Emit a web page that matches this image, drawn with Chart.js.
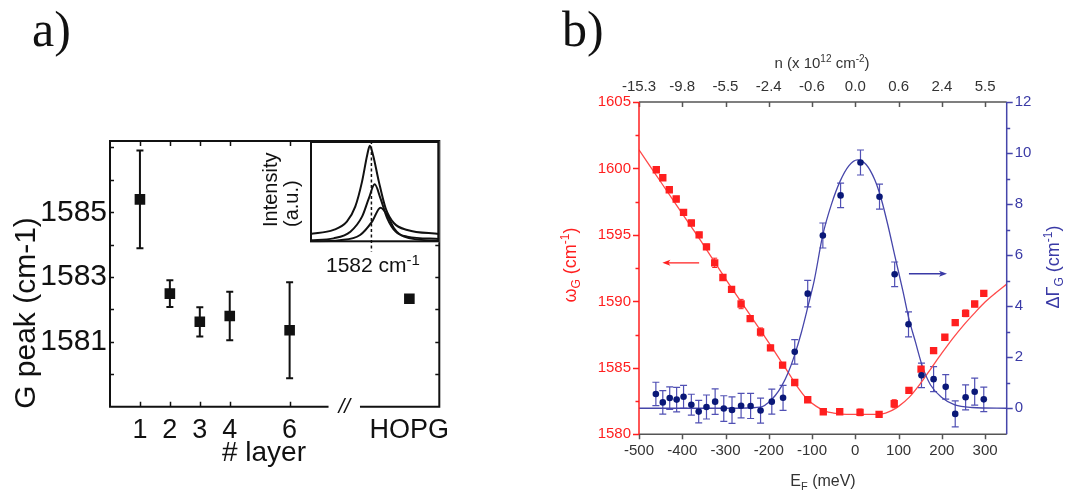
<!DOCTYPE html>
<html lang="en">
<head>
<meta charset="UTF-8">
<title>G peak position</title>
<script src="https://cdn.jsdelivr.net/npm/chart.js@4"></script>
<style>
  body { margin: 0; background: #fff; }
  #wrap { position: relative; width: 1072px; height: 499px; overflow: hidden; }
  .box { position: absolute; }
  .tag { position: absolute; font-family: "Liberation Serif", serif; font-size: 50px; line-height: 1; color: #111; }
</style>
</head>
<body>
<div id="wrap">
  <div class="tag" style="left:32px; top:4px">a)</div>
  <div class="tag" style="left:562px; top:4px">b)</div>
  <div class="box" style="left:0; top:0"><canvas id="layers" width="540" height="499"></canvas></div>
  <div class="box" style="left:310px; top:141px"><canvas id="inset" width="130" height="115"></canvas></div>
  <div class="box" style="left:540px; top:0"><canvas id="doping" width="532" height="499"></canvas></div>
</div>

<script>
// ---- panel a: G peak vs number of layers ----
const layerPos = [1, 2, 3, 4, 6, 10];
const layerLabels = ['1', '2', '3', '4', '6', 'HOPG'];
const gPeak = [1585.4, 1582.49, 1581.62, 1581.8, 1581.36, 1582.33];
const gPeakErr = [1.51, 0.41, 0.45, 0.75, 1.48, 0];
const gPeakTicks = [1581, 1583, 1585];

// inset: G band spectra (cm-1 vs intensity)
const spec1X = [1563, 1570.3, 1574.4, 1577.0, 1579.1, 1580.7, 1581.5, 1582.5, 1584.3, 1586.4, 1589.0, 1593.1, 1603];
const spec1Y = [0.082, 0.122, 0.204, 0.352, 0.599, 0.862, 0.954, 0.862, 0.599, 0.336, 0.188, 0.122, 0.082];
const spec2X = [1563, 1570.3, 1575.5, 1579.1, 1581.2, 1583.0, 1584.8, 1586.9, 1589.5, 1593.1, 1603];
const spec2Y = [0.02, 0.039, 0.105, 0.253, 0.434, 0.572, 0.434, 0.237, 0.105, 0.056, 0.033];
const spec3X = [1563, 1572.2, 1578.5, 1582.2, 1584.8, 1586.9, 1589.0, 1592.1, 1603];
const spec3Y = [0.007, 0.02, 0.072, 0.204, 0.342, 0.27, 0.138, 0.056, 0.013];
const markerX = 1582;

// ---- panel b: G peak vs Fermi energy ----
const redE = [-460, -445, -430, -414, -397, -379, -361, -344, -325, -306, -286, -264, -243, -219, -196, -168,
  -140, -110, -74, -36, 11, 55, 90, 124, 152, 181, 207, 231, 255, 276, 297];
const redW = [1599.9, 1599.3, 1598.4, 1597.7, 1596.7, 1595.9, 1595.0, 1594.1, 1592.9, 1591.8, 1590.9, 1589.8,
  1588.7, 1587.7, 1586.5, 1585.2, 1583.9, 1582.6, 1581.7, 1581.7, 1581.65, 1581.5, 1582.3, 1583.3, 1584.9,
  1586.3, 1587.3, 1588.4, 1589.1, 1589.8, 1590.6];
const redErr = [0.2, 0.2, 0.2, 0.2, 0.2, 0.2, 0.2, 0.2, 0.35, 0.2, 0.2, 0.35, 0.2, 0.3, 0.2, 0.2,
  0.2, 0.2, 0.2, 0.2, 0.25, 0.2, 0.3, 0.2, 0.2, 0.2, 0.2, 0.2, 0.25, 0.2, 0.2];

const blueE = [-461, -445, -429, -413, -397, -379, -362, -344, -324, -304, -285, -264, -242, -219, -193, -167,
  -140, -110, -75, -34, 12, 56, 91, 123, 153, 181, 209, 231, 255, 276, 297];
const blueG = [0.56, 0.23, 0.40, 0.34, 0.45, 0.14, -0.13, 0.05, 0.26, -0.01, -0.07, 0.10, 0.09, -0.09, 0.26, 0.41,
  2.21, 4.49, 6.77, 8.34, 9.63, 8.29, 5.25, 3.29, 1.29, 1.14, 0.84, -0.22, 0.43, 0.65, 0.35];
const blueErr = [0.46, 0.46, 0.44, 0.48, 0.45, 0.41, 0.44, 0.47, 0.5, 0.5, 0.52, 0.48, 0.49, 0.49, 0.49, 0.49,
  0.48, 0.52, 0.49, 0.48, 0.49, 0.49, 0.48, 0.49, 0.48, 0.49, 0.48, 0.51, 0.49, 0.53, 0.48];

// theory curves
const fitWE = [-500, -450, -400, -350, -300, -250, -200, -170, -150, -130, -110, -90, -70, -50, -20, 20, 50, 70, 85,
  100, 125, 150, 175, 200, 225, 250, 275, 300, 325, 350];
const fitW = [1601.4, 1599.0, 1596.6, 1594.2, 1591.7, 1589.3, 1586.9, 1585.4, 1584.4, 1583.4, 1582.6, 1582.1,
  1581.75, 1581.6, 1581.5, 1581.5, 1581.5, 1581.6, 1581.8, 1582.1, 1582.8, 1583.8, 1584.95, 1586.1, 1587.2,
  1588.2, 1589.1, 1589.95, 1590.65, 1591.3];
const fitGE = [-500, -400, -300, -250, -215, -200, -185, -170, -155, -140, -125, -110, -95, -75, -55, -35, -15, 5,
  25, 45, 60, 75, 91, 110, 124, 139, 155, 174, 200, 230, 270, 350];
const fitG = [0, 0, 0, 0.01, 0.06, 0.24, 0.5, 0.88, 1.4, 2.1, 2.95, 3.95, 5.0, 6.8, 8.0, 8.9, 9.5, 9.73,
  9.55, 8.95, 8.2, 7.2, 6.0, 4.6, 3.5, 2.6, 1.65, 0.91, 0.42, 0.13, 0.03, 0];

const energyTicks = [-500, -400, -300, -200, -100, 0, 100, 200, 300];
const densityLabels = ['-15.3', '-9.8', '-5.5', '-2.4', '-0.6', '0.0', '0.6', '2.4', '5.5'];

const SANS = '"Liberation Sans", Arial, sans-serif';
const RED = '#ff1f1f';
const BLUE = '#4545aa';
const NAVY = '#0a1878';

function pairs(xs, ys) { return xs.map((v, i) => ({ x: v, y: ys[i] })); }
const plain = v => String(v);

// text with sub/superscript pieces: [text, size, baselineShift]
function richText(ctx, parts, x, y, color, rotate, align) {
  ctx.save();
  ctx.translate(x, y);
  if (rotate) ctx.rotate(rotate);
  ctx.fillStyle = color;
  ctx.textBaseline = 'alphabetic';
  ctx.textAlign = 'left';
  let total = 0;
  parts.forEach(p => { ctx.font = p[1] + 'px ' + SANS; total += ctx.measureText(p[0]).width; });
  let cx = align === 'left' ? 0 : -total / 2;
  parts.forEach(p => {
    ctx.font = p[1] + 'px ' + SANS;
    ctx.fillText(p[0], cx, p[2] || 0);
    cx += ctx.measureText(p[0]).width;
  });
  ctx.restore();
}

function errorBars(ctx, xs, ys, errs, xs_, ys_, cap, color, width) {
  ctx.save();
  ctx.strokeStyle = color;
  ctx.lineWidth = width;
  xs.forEach((v, i) => {
    if (!errs[i]) return;
    const px = xs_.getPixelForValue(v);
    const top = ys_.getPixelForValue(ys[i] + errs[i]);
    const bot = ys_.getPixelForValue(ys[i] - errs[i]);
    ctx.beginPath();
    ctx.moveTo(px, top); ctx.lineTo(px, bot);
    ctx.moveTo(px - cap, top); ctx.lineTo(px + cap, top);
    ctx.moveTo(px - cap, bot); ctx.lineTo(px + cap, bot);
    ctx.stroke();
  });
  ctx.restore();
}

// tick marks along a vertical scale at x0, drawn towards dx
function yTicks(ctx, scale, values, x0, dx) {
  ctx.beginPath();
  values.forEach(v => {
    const py = Math.round(scale.getPixelForValue(v)) + 0.5;
    ctx.moveTo(x0, py); ctx.lineTo(x0 + dx, py);
  });
  ctx.stroke();
}
// tick marks along a horizontal scale at y0, drawn towards dy
function xTicks(ctx, scale, values, y0, dy) {
  ctx.beginPath();
  values.forEach(v => {
    const px = Math.round(scale.getPixelForValue(v)) + 0.5;
    ctx.moveTo(px, y0); ctx.lineTo(px, y0 + dy);
  });
  ctx.stroke();
}

function arrow(ctx, x1, y1, x2, y2, color) {
  const dir = Math.sign(x2 - x1);
  ctx.save();
  ctx.strokeStyle = color; ctx.fillStyle = color; ctx.lineWidth = 1.3;
  ctx.beginPath(); ctx.moveTo(x1, y1); ctx.lineTo(x2 - dir * 4, y2); ctx.stroke();
  ctx.beginPath();
  ctx.moveTo(x2, y2); ctx.lineTo(x2 - dir * 8, y2 - 3); ctx.lineTo(x2 - dir * 6, y2); ctx.lineTo(x2 - dir * 8, y2 + 3);
  ctx.closePath(); ctx.fill();
  ctx.restore();
}

// ---------- panel a ----------
const axisBreak = [7.3, 8.35];

const layersDecor = {
  id: 'layersDecor',
  beforeDatasetsDraw(chart) {
    const { ctx, scales: { x, y } } = chart;
    errorBars(ctx, layerPos, gPeak, gPeakErr, x, y, 3.5, '#111', 2);
  },
  afterDraw(chart) {
    const { ctx, chartArea: a, scales: { x, y } } = chart;
    ctx.save();
    ctx.strokeStyle = '#111';
    ctx.lineWidth = 2;
    const gapL = x.getPixelForValue(axisBreak[0]);
    const gapR = x.getPixelForValue(axisBreak[1]);
    ctx.beginPath();
    ctx.moveTo(gapL, a.bottom); ctx.lineTo(a.left, a.bottom); ctx.lineTo(a.left, a.top);
    ctx.lineTo(a.right, a.top); ctx.lineTo(a.right, a.bottom); ctx.lineTo(gapR, a.bottom);
    ctx.stroke();

    ctx.lineWidth = 1.5;
    const minor = [];
    for (let v = 1580; v <= 1587; v++) minor.push(v);
    yTicks(ctx, y, minor, a.left, 4);
    yTicks(ctx, y, minor, a.right, -4);
    const xt = layerPos.slice(0, 5);
    xTicks(ctx, x, xt, a.bottom, -5);
    xTicks(ctx, x, xt, a.top, 5);

    // axis break mark
    ctx.fillStyle = '#111';
    ctx.font = 'italic 21px ' + SANS;
    ctx.textAlign = 'center';
    ctx.textBaseline = 'middle';
    ctx.fillText('//', (gapL + gapR) / 2, a.bottom);
    ctx.restore();

    richText(ctx, [['G peak (cm-1)', 30]], 34.5, 313, '#111', -Math.PI / 2);
    richText(ctx, [['# layer', 28]], 264, 461, '#111');
    richText(ctx, [['Intensity', 20]], 277, 227, '#111', -Math.PI / 2, 'left');
    richText(ctx, [['(a.u.)', 20]], 297.5, 227, '#111', -Math.PI / 2, 'left');
    richText(ctx, [['1582 cm', 21], ['-1', 15, -7]], 326, 272, '#111', 0, 'left');
  }
};

new Chart(document.getElementById('layers'), {
  type: 'scatter',
  data: {
    datasets: [{
      data: pairs(layerPos, gPeak),
      pointStyle: 'rect',
      pointRadius: 7.5,
      backgroundColor: '#111',
      borderColor: '#111',
      borderWidth: 0
    }]
  },
  plugins: [layersDecor],
  options: {
    responsive: false,
    animation: false,
    layout: { padding: { top: 141, right: 100.7, left: 0, bottom: 0 } },
    plugins: { legend: { display: false }, tooltip: { enabled: false } },
    scales: {
      x: {
        type: 'linear', min: 0, max: 11,
        afterFit: s => { s.height = 92.3; },
        afterBuildTicks: s => { s.ticks = layerPos.map(v => ({ value: v })); },
        grid: { display: false, drawTicks: false },
        border: { display: false },
        ticks: {
          padding: 8, color: '#111', autoSkip: false, maxRotation: 0,
          font: { family: SANS, size: 27 },
          callback: v => layerLabels[layerPos.indexOf(v)]
        }
      },
      y: {
        min: 1579, max: 1587.2,
        afterFit: s => { s.width = 110; },
        afterBuildTicks: s => { s.ticks = gPeakTicks.map(v => ({ value: v })); },
        grid: { display: false, drawTicks: false },
        border: { display: false },
        ticks: { padding: 3, color: '#111', font: { family: SANS, size: 30 }, callback: plain }
      }
    }
  }
});

// ---------- inset ----------
const insetFrame = {
  id: 'insetFrame',
  beforeDraw(chart) {
    const { ctx, chartArea: a } = chart;
    ctx.save();
    ctx.fillStyle = '#fff';
    ctx.fillRect(a.left, a.top, a.right - a.left, a.bottom - a.top);
    ctx.restore();
  },
  afterDraw(chart) {
    const { ctx, chartArea: a } = chart;
    ctx.save();
    ctx.strokeStyle = '#111';
    ctx.lineWidth = 2;
    ctx.strokeRect(a.left + 1, a.top + 1, a.right - a.left - 2, a.bottom - a.top - 2);
    ctx.restore();
  }
};

const specLine = { showLine: true, pointRadius: 0, borderColor: '#111', borderWidth: 2, cubicInterpolationMode: 'monotone' };

new Chart(document.getElementById('inset'), {
  type: 'scatter',
  data: {
    datasets: [
      Object.assign({ data: pairs(spec1X, spec1Y) }, specLine),
      Object.assign({ data: pairs(spec2X, spec2Y) }, specLine),
      Object.assign({ data: pairs(spec3X, spec3Y) }, specLine),
      {
        data: [{ x: markerX, y: 1 }, { x: markerX, y: -0.09 }],
        showLine: true, pointRadius: 0, borderColor: '#111', borderWidth: 1.5,
        borderDash: [3, 2.5], clip: false
      }
    ]
  },
  plugins: [insetFrame],
  options: {
    responsive: false,
    animation: false,
    layout: { padding: { bottom: 13.7, right: 0.7 } },
    plugins: { legend: { display: false }, tooltip: { enabled: false } },
    scales: {
      x: { type: 'linear', display: false, min: 1563, max: 1603 },
      y: { display: false, min: 0, max: 1 }
    }
  }
});

// ---------- panel b ----------
const dopingDecor = {
  id: 'dopingDecor',
  beforeDatasetsDraw(chart) {
    const { ctx, scales: { x, y, y2 } } = chart;
    errorBars(ctx, redE, redW, redErr, x, y, 2.5, RED, 1);
    errorBars(ctx, blueE, blueG, blueErr, x, y2, 3.5, '#5050b4', 1.2);
  },
  afterDraw(chart) {
    const { ctx, chartArea: a, scales: { x, xTop, y, y2 } } = chart;
    ctx.save();
    ctx.lineWidth = 1.5;
    // frame
    ctx.strokeStyle = '#555';
    ctx.beginPath();
    ctx.moveTo(a.left, a.bottom); ctx.lineTo(a.right, a.bottom);
    ctx.moveTo(a.left, a.top); ctx.lineTo(a.right, a.top);
    ctx.stroke();
    xTicks(ctx, x, energyTicks, a.bottom, 5);
    xTicks(ctx, xTop, energyTicks, a.top, 5);

    ctx.strokeStyle = RED;
    ctx.beginPath(); ctx.moveTo(a.left, a.top); ctx.lineTo(a.left, a.bottom); ctx.stroke();
    const yMaj = y.ticks.map(t => t.value);
    yTicks(ctx, y, yMaj, a.left, -6);
    yTicks(ctx, y, yMaj.slice(1).map(v => v - 2.5), a.left, -3.5);

    ctx.strokeStyle = BLUE;
    ctx.beginPath(); ctx.moveTo(a.right, a.top); ctx.lineTo(a.right, a.bottom); ctx.stroke();
    const y2Maj = y2.ticks.map(t => t.value);
    yTicks(ctx, y2, y2Maj, a.right, 6);
    yTicks(ctx, y2, y2Maj.slice(1).map(v => v - 1), a.right, 3.5);
    ctx.restore();

    // guide arrows towards each axis
    const ry = y.getPixelForValue(1592.9);
    arrow(ctx, x.getPixelForValue(-361), ry, x.getPixelForValue(-446), ry, RED);
    const by = y2.getPixelForValue(5.27);
    arrow(ctx, x.getPixelForValue(124), by, x.getPixelForValue(212), by, '#3a3aa6');

    richText(ctx, [['n (x 10', 15], ['12', 10, -6], [' cm', 15], ['-2', 10, -6], [')', 15]], 282, 68, '#333');
    richText(ctx, [['E', 16], ['F', 11, 4], [' (meV)', 16]], 283, 486, '#333');
    richText(ctx, [['\u03c9', 18], ['G', 12, 4], [' (cm', 18], ['-1', 12, -7], [')', 18]], 36, 265, RED, -Math.PI / 2);
    richText(ctx, [['\u0394\u0393', 18], ['G', 12, 4], [' (cm', 18], ['-1', 12, -7], [')', 18]], 519, 267, '#3a3aa6', -Math.PI / 2);
  }
};

const lineStyle = { showLine: true, pointRadius: 0, borderWidth: 1.3, cubicInterpolationMode: 'monotone', fill: false };

new Chart(document.getElementById('doping'), {
  type: 'scatter',
  data: {
    datasets: [
      { data: pairs(blueE, blueG), yAxisID: 'y2', pointStyle: 'circle', pointRadius: 3.3, backgroundColor: NAVY, borderColor: NAVY, borderWidth: 0 },
      { data: pairs(redE, redW), yAxisID: 'y', pointStyle: 'rect', pointRadius: 5.2, backgroundColor: RED, borderColor: RED, borderWidth: 0 },
      Object.assign({ data: pairs(fitGE, fitG), yAxisID: 'y2', borderColor: '#4646aa' }, lineStyle),
      Object.assign({ data: pairs(fitWE, fitW), yAxisID: 'y', borderColor: '#ff4a4a' }, lineStyle)
    ]
  },
  plugins: [dopingDecor],
  options: {
    responsive: false,
    animation: false,
    layout: { padding: 0 },
    plugins: { legend: { display: false }, tooltip: { enabled: false } },
    scales: {
      x: {
        type: 'linear', position: 'bottom', min: -500, max: 350,
        afterFit: s => { s.height = 64.7; },
        afterBuildTicks: s => { s.ticks = energyTicks.map(v => ({ value: v })); },
        grid: { display: false, drawTicks: false },
        border: { display: false },
        ticks: { padding: 8, color: '#333', autoSkip: false, maxRotation: 0, font: { family: SANS, size: 15 }, callback: plain }
      },
      xTop: {
        type: 'linear', position: 'top', min: -500, max: 350,
        afterFit: s => { s.height = 102; },
        afterBuildTicks: s => { s.ticks = energyTicks.map(v => ({ value: v })); },
        grid: { display: false, drawTicks: false },
        border: { display: false },
        ticks: {
          padding: 6, color: '#333', autoSkip: false, maxRotation: 0, font: { family: SANS, size: 15 },
          callback: v => densityLabels[energyTicks.indexOf(v)]
        }
      },
      y: {
        position: 'left', min: 1580, max: 1605,
        afterFit: s => { s.width = 99; },
        grid: { display: false, drawTicks: false },
        border: { display: false },
        ticks: { stepSize: 5, padding: 8, color: RED, font: { family: SANS, size: 15 }, callback: plain }
      },
      y2: {
        position: 'right', min: -1.02, max: 12,
        afterFit: s => { s.width = 65.3; },
        grid: { display: false, drawTicks: false },
        border: { display: false },
        ticks: { stepSize: 2, includeBounds: false, padding: 8, color: '#3a3aa6', font: { family: SANS, size: 15 }, callback: plain }
      }
    }
  }
});
</script>
</body>
</html>
